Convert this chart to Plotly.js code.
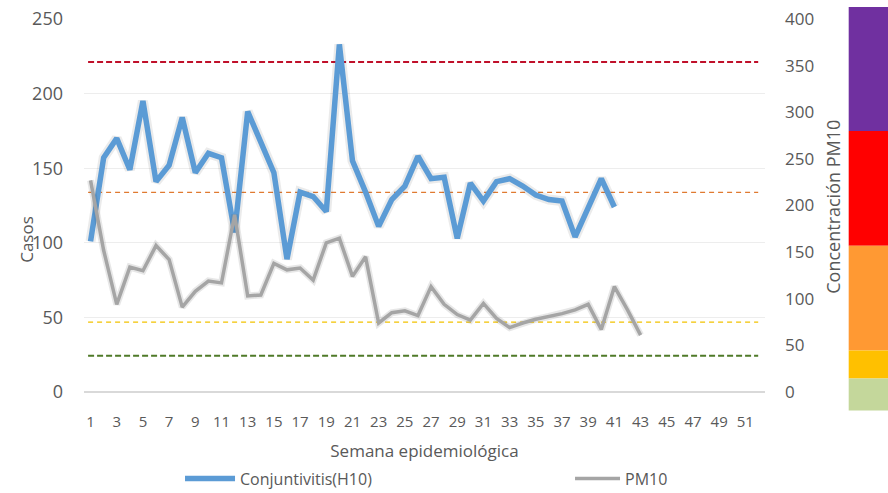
<!DOCTYPE html>
<html>
<head>
<meta charset="utf-8">
<script src="https://cdn.plot.ly/plotly-3.0.1.min.js"></script>
<style>html,body{margin:0;padding:0;background:#fff;}#chart{width:888px;height:493px;}</style>
</head>
<body>
<div id="chart"></div>
<script>
// Semana epidemiológica
const weeksConj = [1,2,3,4,5,6,7,8,9,10,11,12,13,14,15,16,17,18,19,20,21,22,23,24,25,26,27,28,29,30,31,32,33,34,35,36,37,38,39,40,41];
const conjuntivitis = [101,157,170,149,195,141,152,184,147,160,157,107,188,168,147,89,134,131,121,233,155,134,111,129,138,158,143,144,103,140,128,141,143,138,132,129,128,104,124,143,124];
const weeksPM = [1,2,3,4,5,6,7,8,9,10,11,12,13,14,15,16,17,18,19,20,21,22,23,24,25,26,27,28,29,30,31,32,33,34,35,36,37,38,39,40,41,42,43];
const pm10 = [227,152,94,134,130,157,142,91,108,119,117,190,103,104,138,131,133,120,160,165,124,145,74,85,87,82,113,94,83,77,95,79,69,74,78,81,84,88,94,67,113,88,61];
// Reference lines (PM10 axis units)
const refLevels = [354, 214, 75, 39];
const refColors = ['#C0102A', '#E07A30', '#F2C200', '#4F7A28'];
// Colour scale bands (top to bottom)
const bandColors = ['#7030A0', '#FF0000', '#FF9933', '#FFC000', '#C4D79B'];
const xTicks = [1,3,5,7,9,11,13,15,17,19,21,23,25,27,29,31,33,35,37,39,41,43,45,47,49,51];

const txt = '#595959';
const font = 'Open Sans, DejaVu Sans, sans-serif';

const traces = [
  // soft shadows under the series lines
  {x: weeksConj, y: conjuntivitis, type: 'scatter', mode: 'lines', showlegend: false, hoverinfo: 'skip',
   line: {color: 'rgba(60,60,60,0.10)', width: 10}, yaxis: 'y'},
  {x: weeksPM, y: pm10, type: 'scatter', mode: 'lines', showlegend: false, hoverinfo: 'skip',
   line: {color: 'rgba(60,60,60,0.12)', width: 7}, yaxis: 'y2'},
  {x: weeksConj, y: conjuntivitis, type: 'scatter', mode: 'lines', name: 'Conjuntivitis(H10)',
   line: {color: '#5B9BD5', width: 5.5}, yaxis: 'y', legend: 'legend'},
  {x: weeksPM, y: pm10, type: 'scatter', mode: 'lines', name: 'PM10',
   line: {color: '#A5A5A5', width: 3.5}, yaxis: 'y2', legend: 'legend2'}
];

const shapes = [];
const bandEdges = [1.032, 0.700, 0.392, 0.111, 0.036, -0.0495];
bandColors.forEach((c, i) => {
  shapes.push({type: 'rect', xref: 'paper', yref: 'paper', x0: 1.1229, x1: 1.19,
    y0: bandEdges[i + 1], y1: bandEdges[i], fillcolor: c, line: {width: 0}, layer: 'above'});
});
const refWidths = [2, 1.3, 1.3, 2];
const refDash = ['6px,3px', '5px,4px', '5px,4px', '6px,3px'];
refLevels.forEach((v, i) => {
  shapes.push({type: 'line', xref: 'paper', yref: 'y2', x0: 0.006, x1: 0.99, y0: v, y1: v,
    line: {color: refColors[i], width: refWidths[i], dash: refDash[i]}, layer: 'below'});
});

const layout = {
  width: 888, height: 493,
  margin: {l: 84, r: 123, t: 19, b: 100.5, autoexpand: false},
  paper_bgcolor: '#fff', plot_bgcolor: '#fff',
  font: {family: font, color: txt},
  showlegend: true,
  xaxis: {
    range: [0.5, 52.5], tickvals: xTicks, ticktext: xTicks.map(String),
    showgrid: false, zeroline: false, showline: false, ticks: '',
    tickfont: {size: 15, color: txt}, ticklabelstandoff: 19,
    title: {text: 'Semana epidemiológica', font: {size: 17, color: txt}, standoff: 15}
  },
  yaxis: {
    range: [0, 250], dtick: 50, tick0: 0, showgrid: true, gridcolor: '#EDEDED', gridwidth: 1,
    zeroline: true, zerolinecolor: '#D9D9D9', zerolinewidth: 1.5, showline: false, ticks: '',
    tickfont: {size: 18, color: txt}, ticklabelstandoff: 20
  },
  yaxis2: {
    range: [0, 400], dtick: 50, tick0: 0, overlaying: 'y', side: 'right',
    showgrid: false, zeroline: false, showline: false, ticks: '',
    tickfont: {size: 17, color: txt}, ticklabelstandoff: 19
  },
  legend: {orientation: 'h', x: 0.141, xanchor: 'left', y: -0.232, yanchor: 'middle',
    font: {size: 16, color: txt}, itemwidth: 50, bgcolor: 'rgba(0,0,0,0)'},
  legend2: {orientation: 'h', x: 0.7137, xanchor: 'left', y: -0.232, yanchor: 'middle',
    font: {size: 16, color: txt}, itemwidth: 45, bgcolor: 'rgba(0,0,0,0)'},
  annotations: [
    {text: 'Casos', xref: 'paper', yref: 'paper', x: -0.0837, y: 0.408, textangle: -90,
     xanchor: 'center', yanchor: 'middle', showarrow: false, font: {size: 17, color: txt}},
    {text: 'Concentración PM10', xref: 'paper', yref: 'paper', x: 1.0999, y: 0.4967, textangle: -90,
     xanchor: 'center', yanchor: 'middle', showarrow: false, font: {size: 18, color: txt}}
  ],
  shapes: shapes
};

Plotly.newPlot('chart', traces, layout, {displayModeBar: false, staticPlot: true});
</script>
</body>
</html>
